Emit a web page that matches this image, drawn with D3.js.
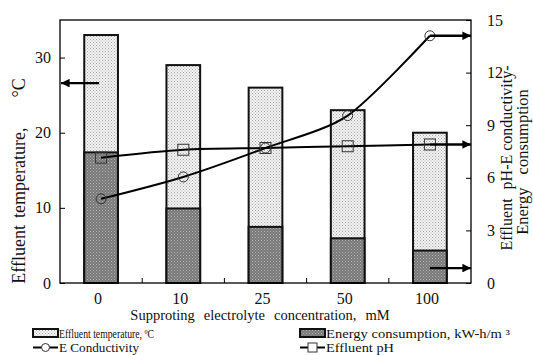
<!DOCTYPE html>
<html><head><meta charset="utf-8">
<script src="https://cdn.jsdelivr.net/npm/d3@7"></script>
<style>
body{margin:0;background:#fff}
svg{display:block;font-family:"Liberation Serif","Times New Roman",serif}
</style>
</head><body>
<svg id="chart" width="533" height="355"></svg>
<script>
// Supporting electrolyte concentration (mM)
const categories = ["0", "10", "25", "50", "100"];
// Effluent temperature, °C (left axis)
const temperature = [33, 29, 26, 23, 20];
// Energy consumption, kW-h/m³ (right axis)
const energy = [7.45, 4.25, 3.2, 2.55, 1.85];
// E conductivity (right axis)
const conductivity = [4.8, 6.05, 7.7, 9.55, 14.1];
// Effluent pH (right axis)
const ph = [7.15, 7.6, 7.7, 7.8, 7.9];

const leftTicks = [0, 10, 20, 30];
const rightTicks = [0, 3, 6, 9, 12, 15];

// Pointer arrows telling which axis each series reads from
const leftArrowValue = 26.6;          // temperature bars -> left axis
const energyArrowValue = 0.85;        // energy bars -> right axis

const svg = d3.select("#chart");
const plot = {left: 60, right: 471, top: 20, bottom: 283};

const band = d3.scaleBand().domain(categories).range([plot.left, plot.right]).padding(0);
const x = d3.scaleBand().domain(categories).range([plot.left, plot.right])
  .paddingInner(0.59).paddingOuter(0.295);
const cx = c => x(c) + x.bandwidth() / 2;
const yL = d3.scaleLinear().domain([0, 35]).range([plot.bottom, plot.top]);
const yR = d3.scaleLinear().domain([0, 15]).range([plot.bottom, plot.top]);

// fill patterns
const defs = svg.append("defs");
const pl = defs.append("pattern").attr("id", "lightDots").attr("patternUnits", "userSpaceOnUse")
  .attr("width", 3).attr("height", 3);
pl.append("rect").attr("width", 3).attr("height", 3).attr("fill", "#f2f2f2");
pl.append("rect").attr("x", 0).attr("y", 0).attr("width", 1).attr("height", 1).attr("fill", "#a8a8a8");
pl.append("rect").attr("x", 1.5).attr("y", 1.5).attr("width", 1).attr("height", 1).attr("fill", "#b8b8b8");
const pd = defs.append("pattern").attr("id", "darkDots").attr("patternUnits", "userSpaceOnUse")
  .attr("width", 3).attr("height", 3);
pd.append("rect").attr("width", 3).attr("height", 3).attr("fill", "#7a7a7a");
pd.append("rect").attr("x", 0).attr("y", 0).attr("width", 1).attr("height", 1).attr("fill", "#b0b0b0");
pd.append("rect").attr("x", 1.5).attr("y", 1.5).attr("width", 1).attr("height", 1).attr("fill", "#a0a0a0");

const mk = defs.append("marker").attr("id", "arrowHead").attr("viewBox", "0 0 10 10")
  .attr("refX", 10).attr("refY", 5).attr("markerWidth", 4.2).attr("markerHeight", 3.6)
  .attr("orient", "auto").attr("markerUnits", "strokeWidth");
mk.append("path").attr("d", "M0,0 L10,5 L0,10 Z").attr("fill", "#000");

// temperature bars (left axis)
svg.append("g").selectAll("rect").data(categories).join("rect")
  .attr("x", c => x(c)).attr("width", x.bandwidth())
  .attr("y", (c, i) => yL(temperature[i]))
  .attr("height", (c, i) => yL(0) - yL(temperature[i]))
  .attr("fill", "url(#lightDots)").attr("stroke", "#111").attr("stroke-width", 2);

// energy bars (right axis)
svg.append("g").selectAll("rect").data(categories).join("rect")
  .attr("x", c => x(c)).attr("width", x.bandwidth())
  .attr("y", (c, i) => yR(energy[i]))
  .attr("height", (c, i) => yR(0) - yR(energy[i]))
  .attr("fill", "url(#darkDots)").attr("stroke", "#111").attr("stroke-width", 2);

// smoothed series lines
const smooth = d3.line().x((d, i) => cx(categories[i])).y(d => yR(d)).curve(d3.curveCardinal.tension(0.2));
svg.append("path").attr("d", smooth(conductivity)).attr("fill", "none")
  .attr("stroke", "#000").attr("stroke-width", 2);
svg.append("path").attr("d", smooth(ph)).attr("fill", "none")
  .attr("stroke", "#000").attr("stroke-width", 2);

svg.append("g").selectAll("circle").data(conductivity).join("circle")
  .attr("cx", (d, i) => cx(categories[i])).attr("cy", d => yR(d)).attr("r", 5)
  .attr("fill", "none").attr("stroke", "#333").attr("stroke-width", 1);
svg.append("g").selectAll("rect").data(ph).join("rect")
  .attr("x", (d, i) => cx(categories[i]) - 5.5).attr("y", d => yR(d) - 5.5)
  .attr("width", 11).attr("height", 11)
  .attr("fill", "none").attr("stroke", "#333").attr("stroke-width", 1);

// axis pointer arrows
const arrows = svg.append("g").attr("stroke", "#000").attr("stroke-width", 2.4)
  .attr("marker-end", "url(#arrowHead)");
arrows.append("line").attr("x1", cx(categories[0]) - 2).attr("x2", plot.left + 1)
  .attr("y1", yL(leftArrowValue)).attr("y2", yL(leftArrowValue));
const last = categories[categories.length - 1];
[conductivity[conductivity.length - 1], ph[ph.length - 1], energyArrowValue].forEach(v => {
  arrows.append("line").attr("x1", cx(last)).attr("x2", plot.right)
    .attr("y1", yR(v)).attr("y2", yR(v));
});

// frame
svg.append("rect").attr("x", plot.left).attr("y", plot.top)
  .attr("width", plot.right - plot.left).attr("height", plot.bottom - plot.top)
  .attr("fill", "none").attr("stroke", "#000").attr("stroke-width", 1.3);

// left axis
const gl = svg.append("g").attr("transform", `translate(${plot.left},0)`)
  .call(d3.axisLeft(yL).tickValues(leftTicks).tickSizeInner(-5).tickSizeOuter(0).tickPadding(9));
gl.select(".domain").remove();
gl.selectAll("line").attr("stroke", "#000");
gl.selectAll("text").attr("font-size", 16).attr("font-family", "Liberation Serif").attr("fill", "#111");

// right axis
const gr = svg.append("g").attr("transform", `translate(${plot.right},0)`)
  .call(d3.axisRight(yR).tickValues(rightTicks).tickSizeInner(-5).tickSizeOuter(0).tickPadding(16));
gr.select(".domain").remove();
gr.selectAll("line").attr("stroke", "#000");
gr.selectAll("text").attr("font-size", 16).attr("font-family", "Liberation Serif").attr("fill", "#111");

// bottom axis: category labels and inward ticks at band edges
const gb = svg.append("g").attr("transform", `translate(0,${plot.bottom})`)
  .call(d3.axisBottom(band).tickSize(0).tickPadding(10));
gb.select(".domain").remove();
gb.selectAll("text").attr("font-size", 16).attr("font-family", "Liberation Serif").attr("fill", "#111")
  .attr("dx", -3);
svg.append("g").selectAll("line").data(categories.slice(1)).join("line")
  .attr("x1", c => band(c)).attr("x2", c => band(c))
  .attr("y1", plot.bottom).attr("y2", plot.bottom - 5).attr("stroke", "#000");

// axis titles: words at natural width, separated by the given gaps, centred
function spacedTitle(transform, words, gaps, size) {
  const g = svg.append("g").attr("transform", transform);
  const widths = words.map(w => {
    const t = g.append("text").attr("font-size", size).text(w);
    const wd = t.node().getComputedTextLength();
    t.remove();
    return wd;
  });
  const span = d3.sum(widths) + d3.sum(gaps);
  let pos = -span / 2;
  const t = g.append("text").attr("font-size", size).attr("fill", "#111");
  words.forEach((w, i) => {
    t.append("tspan").attr("x", pos).text(w);
    pos += widths[i] + (gaps[i] || 0);
  });
  return t;
}
spacedTitle("translate(25,181) rotate(-90)", ["Effluent", "temperature,", "°C"], [7, 30], 18);
spacedTitle("translate(512,158) rotate(-90)", ["Effluent", "pH-E", "conductivity-"], [9, 4], 16);
spacedTitle("translate(528,162) rotate(-90)", ["Energy", "consumption"], [13], 16.5);
spacedTitle("translate(260,320)", ["Supproting", "electrolyte", "concentration,", "mM"], [9, 9, 9], 14.5);

// legend
const legend = svg.append("g").attr("fill", "#111");
const barItems = [
  {label: "Effluent temperature, ºC", fill: "url(#lightDots)", x: 33, len: 95, size: 12},
  {label: "Energy consumption, kW-h/m ³", fill: "url(#darkDots)", x: 300, len: 184, size: 13}
];
barItems.forEach(d => {
  legend.append("rect").attr("x", d.x).attr("y", 329).attr("width", 25).attr("height", 8)
    .attr("fill", d.fill).attr("stroke", "#111").attr("stroke-width", 2);
  legend.append("text").attr("x", d.x + 26).attr("y", 338).attr("font-size", d.size)
    .attr("textLength", d.len).attr("lengthAdjust", "spacingAndGlyphs").text(d.label);
});
const lineItems = [
  {label: "E Conductivity", shape: "circle", x: 33, len: 80},
  {label: "Effluent pH", shape: "square", x: 300, len: 68}
];
lineItems.forEach(d => {
  legend.append("line").attr("x1", d.x).attr("x2", d.x + 25).attr("y1", 347.5).attr("y2", 347.5)
    .attr("stroke", "#000").attr("stroke-width", 2);
  if (d.shape === "circle") {
    legend.append("circle").attr("cx", d.x + 12.5).attr("cy", 347.5).attr("r", 4)
      .attr("fill", "#fff").attr("stroke", "#333");
  } else {
    legend.append("rect").attr("x", d.x + 8).attr("y", 343).attr("width", 9).attr("height", 9)
      .attr("fill", "#fff").attr("stroke", "#333");
  }
  legend.append("text").attr("x", d.x + 26).attr("y", 351.5).attr("font-size", 12.5)
    .attr("textLength", d.len).attr("lengthAdjust", "spacingAndGlyphs").text(d.label);
});
</script>
</body></html>
